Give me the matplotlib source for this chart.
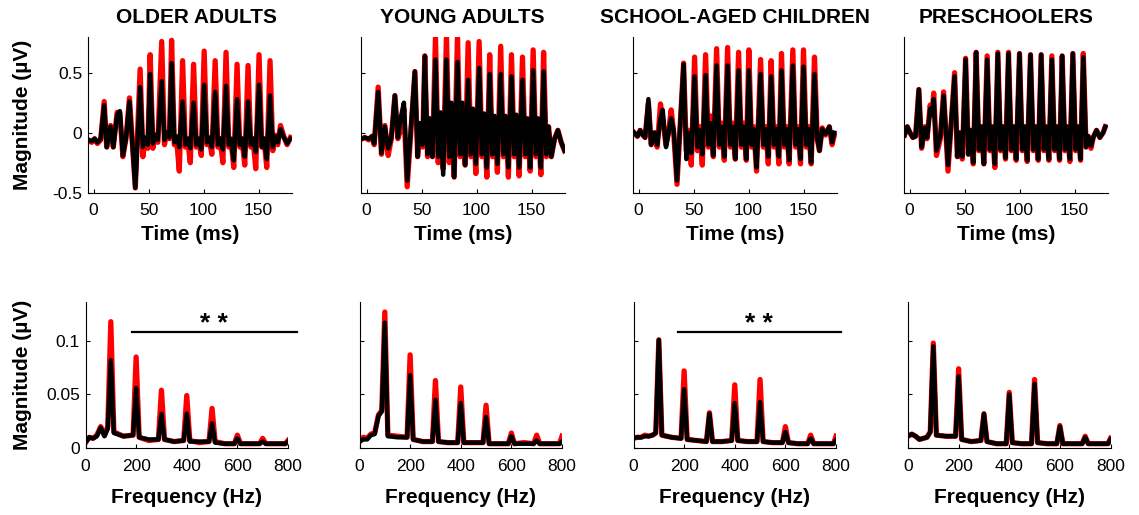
import numpy as np
import matplotlib.pyplot as plt

plt.rcParams['font.family'] = ['Liberation Sans', 'DejaVu Sans']

titles = ['OLDER ADULTS', 'YOUNG ADULTS', 'SCHOOL-AGED CHILDREN', 'PRESCHOOLERS']

# ---------------- time domain (uV) ----------------
# onset wiggles before the periodic part, then one entry per 100 Hz cycle:
# (peak, dip after peak, small bump, trough before next peak), then offset wiggles

# older adults
old_onset_t = [-4, -1.5, 1, 3.5, 6.5, 9.7, 12, 15.5, 18, 21.5, 24, 26.7, 29.5, 32.7, 38]
old_onset_red = [-0.07, -0.08, -0.05, -0.09, -0.06, 0.26, -0.12, 0.06, -0.12, 0.17, 0.16, -0.20, -0.05, 0.29, -0.46]
old_onset_blk = [-0.06, -0.07, -0.05, -0.08, -0.05, 0.23, -0.12, 0.05, -0.12, 0.15, 0.18, -0.19, -0.05, 0.26, -0.46]
old_peak_t = [42.4, 51.5, 62, 71, 81, 91, 100.6, 110.6, 120.5, 130.5, 140.5, 150.5, 160.5]
old_cyc_red = [(0.53, -0.20, -0.05, -0.13), (0.65, -0.13, -0.02, -0.08), (0.76, -0.10, 0.00, -0.05),
               (0.77, -0.10, -0.05, -0.32), (0.60, -0.12, -0.05, -0.25), (0.57, -0.12, -0.05, -0.19),
               (0.68, -0.10, -0.05, -0.18), (0.60, -0.12, -0.05, -0.25), (0.67, -0.12, -0.06, -0.29),
               (0.57, -0.12, -0.05, -0.27), (0.56, -0.12, -0.05, -0.30), (0.65, -0.12, -0.05, -0.29),
               (0.60, -0.15, -0.02, -0.10)]
old_cyc_blk = [(0.38, -0.12, -0.04, -0.10), (0.49, -0.09, -0.02, -0.06), (0.43, -0.06, 0.00, -0.04),
               (0.58, -0.08, -0.03, -0.12), (0.26, -0.10, -0.05, -0.13), (0.25, -0.10, -0.05, -0.14),
               (0.40, -0.08, -0.04, -0.12), (0.34, -0.10, -0.05, -0.14), (0.39, -0.10, -0.05, -0.23),
               (0.28, -0.10, -0.05, -0.20), (0.26, -0.10, -0.05, -0.16), (0.40, -0.12, -0.05, -0.22),
               (0.31, -0.12, -0.03, -0.08)]
old_tail_t = [170, 173, 176, 179]
old_tail_red = [0.06, -0.03, -0.10, -0.04]
old_tail_blk = [0.03, -0.04, -0.09, -0.05]

# young adults
yng_onset_t = [-4, -1.5, 2, 5, 7, 10.6, 13.6, 16.7, 19.7, 22.5, 25.8, 28.5, 31, 34, 37]
yng_onset_red = [-0.05, -0.04, -0.06, -0.03, -0.10, 0.38, -0.18, 0.06, -0.19, -0.05, 0.31, -0.05, 0.02, 0.20, -0.45]
yng_onset_blk = [-0.05, -0.04, -0.05, -0.03, -0.09, 0.34, -0.17, 0.05, -0.13, -0.05, 0.31, -0.04, 0.12, 0.25, -0.40]
yng_peak_t = [44, 53, 62.7, 72.7, 82.7, 92.4, 102.4, 112, 122, 131.8, 141.8, 151.5, 161]
yng_cyc_red = [(0.51, -0.20, 0.05, -0.12), (0.64, -0.20, 0.10, -0.20), (0.80, -0.25, 0.15, -0.30),
               (0.81, -0.25, 0.20, -0.37), (0.81, -0.20, 0.20, -0.27), (0.75, -0.20, 0.15, -0.34),
               (0.76, -0.20, 0.12, -0.37), (0.65, -0.20, 0.12, -0.33), (0.72, -0.20, 0.12, -0.37),
               (0.65, -0.20, 0.12, -0.36), (0.63, -0.20, 0.10, -0.32), (0.69, -0.20, 0.10, -0.35),
               (0.67, -0.20, 0.05, -0.20)]
yng_cyc_blk = [(0.51, -0.20, 0.08, -0.10), (0.64, -0.18, 0.12, -0.20), (0.61, -0.20, 0.17, -0.35),
               (0.61, -0.20, 0.25, -0.37), (0.59, -0.18, 0.25, -0.27), (0.44, -0.18, 0.20, -0.26),
               (0.54, -0.18, 0.16, -0.29), (0.49, -0.18, 0.14, -0.26), (0.49, -0.18, 0.14, -0.29),
               (0.47, -0.18, 0.15, -0.29), (0.44, -0.18, 0.12, -0.29), (0.52, -0.18, 0.12, -0.29),
               (0.51, -0.18, 0.05, -0.20)]
yng_tail_t = [171, 174, 177, 180]
yng_tail_red = [-0.05, 0.02, -0.08, -0.15]
yng_tail_blk = [-0.05, 0.02, -0.08, -0.15]

# school-aged children
sch_onset_t = [-4, -1, 1.5, 4, 6, 9, 11.5, 14.5, 17, 20, 22, 25, 27.5, 29.7, 32, 35]
sch_onset_red = [0.00, -0.03, 0.02, -0.02, -0.04, 0.25, -0.10, 0.00, -0.12, 0.24, 0.10, -0.10, 0.02, 0.19, 0.00, -0.43]
sch_onset_blk = [0.00, -0.03, 0.02, -0.02, -0.04, 0.28, -0.10, 0.00, -0.10, 0.12, 0.19, -0.12, 0.00, 0.12, 0.02, -0.40]
sch_peak_t = [41, 51, 61, 71, 81, 91, 100.3, 111, 120.6, 130, 140.3, 150, 160]
sch_cyc_red = [(0.58, -0.15, 0.02, -0.27), (0.63, -0.15, 0.05, -0.27), (0.65, -0.12, 0.14, -0.20),
               (0.70, -0.12, 0.08, -0.23), (0.71, -0.12, 0.08, -0.22), (0.67, -0.12, 0.08, -0.23),
               (0.69, -0.12, 0.05, -0.32), (0.61, -0.12, 0.05, -0.26), (0.60, -0.12, 0.05, -0.26),
               (0.66, -0.12, 0.05, -0.26), (0.69, -0.12, 0.05, -0.26), (0.69, -0.12, 0.05, -0.26),
               (0.63, -0.05, -0.15, 0.04)]
sch_cyc_blk = [(0.57, -0.22, 0.00, -0.17), (0.47, -0.12, 0.02, -0.18), (0.48, -0.10, 0.08, -0.19),
               (0.56, -0.10, 0.05, -0.20), (0.56, -0.10, 0.05, -0.22), (0.52, -0.10, 0.05, -0.22),
               (0.52, -0.10, 0.03, -0.29), (0.49, -0.10, 0.03, -0.20), (0.47, -0.10, 0.03, -0.20),
               (0.52, -0.10, 0.03, -0.23), (0.56, -0.10, 0.03, -0.22), (0.55, -0.10, 0.03, -0.25),
               (0.49, -0.05, -0.15, 0.03)]
sch_tail_t = [170, 173.5, 176, 178]
sch_tail_red = [-0.02, 0.05, -0.10, -0.02]
sch_tail_blk = [-0.01, 0.05, -0.08, 0.00]

# preschoolers
pre_onset_t = [-4.5, -2, 0.5, 3, 5.5, 8.5, 11, 14, 16, 18.8, 20.5, 22, 24.5, 28, 31, 35]
pre_onset_red = [-0.02, 0.05, 0.00, -0.04, -0.03, 0.36, -0.13, 0.05, -0.05, 0.23, 0.15, 0.33, -0.19, -0.05, 0.34, -0.32]
pre_onset_blk = [-0.02, 0.05, 0.00, -0.04, -0.03, 0.36, -0.12, 0.04, -0.04, 0.20, 0.15, 0.28, -0.15, -0.03, 0.31, -0.27]
pre_peak_t = [41, 51, 60.6, 70.6, 80.3, 90, 100, 110, 119.7, 129.4, 138.8, 148.5, 158]
pre_cyc_red = [(0.50, -0.20, 0.00, -0.22), (0.62, -0.18, 0.02, -0.26), (0.67, -0.15, 0.05, -0.26),
               (0.64, -0.15, 0.05, -0.29), (0.67, -0.15, 0.05, -0.22), (0.67, -0.15, 0.05, -0.23),
               (0.66, -0.15, 0.05, -0.24), (0.65, -0.15, 0.05, -0.23), (0.65, -0.15, 0.05, -0.23),
               (0.64, -0.15, 0.05, -0.23), (0.64, -0.15, 0.05, -0.24), (0.66, -0.15, 0.05, -0.23),
               (0.66, -0.12, -0.03, -0.13)]
pre_cyc_blk = [(0.47, -0.20, 0.00, -0.20), (0.61, -0.18, 0.02, -0.25), (0.67, -0.14, 0.05, -0.26),
               (0.61, -0.14, 0.05, -0.26), (0.66, -0.14, 0.05, -0.21), (0.66, -0.14, 0.05, -0.22),
               (0.66, -0.14, 0.05, -0.23), (0.65, -0.14, 0.05, -0.22), (0.65, -0.14, 0.05, -0.22),
               (0.61, -0.14, 0.05, -0.22), (0.64, -0.14, 0.05, -0.22), (0.66, -0.14, 0.05, -0.22),
               (0.63, -0.12, -0.03, -0.11)]
pre_tail_t = [167, 170, 173, 176, 178]
pre_tail_red = [-0.04, 0.02, -0.04, 0.00, 0.05]
pre_tail_blk = [-0.04, 0.02, -0.04, 0.00, 0.05]

# ---------------- spectra (uV) ----------------
freq = [0, 15, 30, 45, 60, 75, 88, 100, 112, 150, 188, 200, 212, 250, 288, 300, 312, 350,
        388, 400, 412, 450, 488, 500, 512, 550, 588, 600, 612, 650, 688, 700, 712, 750, 790, 800]
old_spec_red = [0.005, 0.010, 0.009, 0.012, 0.020, 0.012, 0.020, 0.118, 0.015, 0.011, 0.012, 0.085,
                0.010, 0.007, 0.008, 0.054, 0.008, 0.006, 0.007, 0.049, 0.007, 0.005, 0.006, 0.037,
                0.006, 0.004, 0.004, 0.012, 0.004, 0.004, 0.004, 0.009, 0.004, 0.004, 0.004, 0.007]
old_spec_blk = [0.005, 0.010, 0.009, 0.011, 0.019, 0.011, 0.018, 0.082, 0.014, 0.011, 0.012, 0.056,
                0.010, 0.008, 0.008, 0.032, 0.008, 0.006, 0.007, 0.032, 0.006, 0.006, 0.006, 0.023,
                0.005, 0.004, 0.004, 0.009, 0.004, 0.004, 0.004, 0.006, 0.004, 0.004, 0.004, 0.006]
yng_spec_red = [0.006, 0.010, 0.009, 0.013, 0.014, 0.031, 0.035, 0.127, 0.012, 0.011, 0.010, 0.087,
                0.008, 0.006, 0.006, 0.063, 0.006, 0.005, 0.005, 0.057, 0.005, 0.005, 0.005, 0.040,
                0.004, 0.004, 0.004, 0.014, 0.004, 0.005, 0.004, 0.012, 0.004, 0.004, 0.004, 0.011]
yng_spec_blk = [0.006, 0.008, 0.008, 0.012, 0.013, 0.030, 0.034, 0.117, 0.011, 0.010, 0.010, 0.068,
                0.008, 0.006, 0.006, 0.045, 0.006, 0.005, 0.005, 0.042, 0.005, 0.005, 0.005, 0.029,
                0.004, 0.004, 0.004, 0.011, 0.004, 0.004, 0.004, 0.007, 0.004, 0.004, 0.004, 0.006]
sch_spec_red = [0.009, 0.010, 0.010, 0.012, 0.011, 0.012, 0.014, 0.101, 0.012, 0.010, 0.009, 0.072,
                0.008, 0.007, 0.006, 0.033, 0.006, 0.006, 0.007, 0.059, 0.007, 0.006, 0.006, 0.064,
                0.006, 0.005, 0.005, 0.020, 0.005, 0.004, 0.004, 0.012, 0.004, 0.004, 0.004, 0.011]
sch_spec_blk = [0.009, 0.010, 0.010, 0.011, 0.011, 0.012, 0.014, 0.101, 0.012, 0.010, 0.009, 0.055,
                0.008, 0.007, 0.006, 0.032, 0.006, 0.006, 0.007, 0.042, 0.007, 0.006, 0.006, 0.043,
                0.006, 0.005, 0.005, 0.015, 0.005, 0.004, 0.004, 0.009, 0.004, 0.004, 0.004, 0.0075]
pre_spec_red = [0.011, 0.013, 0.011, 0.008, 0.009, 0.010, 0.015, 0.098, 0.012, 0.011, 0.011, 0.074,
                0.008, 0.006, 0.007, 0.032, 0.006, 0.004, 0.004, 0.052, 0.005, 0.004, 0.004, 0.064,
                0.005, 0.004, 0.004, 0.021, 0.004, 0.004, 0.004, 0.011, 0.004, 0.004, 0.004, 0.009]
pre_spec_blk = [0.011, 0.013, 0.011, 0.008, 0.009, 0.010, 0.015, 0.095, 0.012, 0.011, 0.011, 0.067,
                0.008, 0.006, 0.007, 0.032, 0.006, 0.004, 0.004, 0.050, 0.005, 0.004, 0.004, 0.060,
                0.005, 0.004, 0.004, 0.020, 0.004, 0.004, 0.004, 0.010, 0.004, 0.004, 0.004, 0.008]

# significance bars (Hz range, height)
old_sig = [185, 835]
sch_sig = [176, 820]
sig_y = 0.1087


def build_wave(onset_t, onset_v, peak_t, cycles, tail_t, tail_v):
    t = list(onset_t)
    v = list(onset_v)
    for p, c in zip(peak_t, cycles):
        t += [p, p + 2.5, p + 4.5, p + 7]
        v += list(c)
    return t + list(tail_t), v + list(tail_v)


waves = [
    (old_onset_t, old_onset_red, old_onset_blk, old_peak_t, old_cyc_red, old_cyc_blk, old_tail_t, old_tail_red, old_tail_blk),
    (yng_onset_t, yng_onset_red, yng_onset_blk, yng_peak_t, yng_cyc_red, yng_cyc_blk, yng_tail_t, yng_tail_red, yng_tail_blk),
    (sch_onset_t, sch_onset_red, sch_onset_blk, sch_peak_t, sch_cyc_red, sch_cyc_blk, sch_tail_t, sch_tail_red, sch_tail_blk),
    (pre_onset_t, pre_onset_red, pre_onset_blk, pre_peak_t, pre_cyc_red, pre_cyc_blk, pre_tail_t, pre_tail_red, pre_tail_blk),
]
spectra = [(old_spec_red, old_spec_blk), (yng_spec_red, yng_spec_blk),
           (sch_spec_red, sch_spec_blk), (pre_spec_red, pre_spec_blk)]
sigs = [old_sig, None, sch_sig, None]

W, H = 1139, 515
fig = plt.figure(figsize=(W / 100, H / 100), dpi=100)

top_left = [88, 361, 633, 904]
bot_left = [85.5, 359.5, 633.5, 908]
title_x = [0.535, 0.5, 0.5, 0.5]

tick_fs = 12.5
lab_fs = 15
red_lw = 3.8
blk_lw = 3.2


def style(ax):
    for s in ['top', 'right']:
        ax.spines[s].set_visible(False)
    for s in ['left', 'bottom']:
        ax.spines[s].set_linewidth(0.8)
    ax.tick_params(direction='in', length=3, width=0.8, labelsize=tick_fs)
    ax.tick_params(axis='y', pad=4)


for i in range(4):
    ot, ored, oblk, pt, cred, cblk, tt, tred, tblk = waves[i]
    t, vr = build_wave(ot, ored, pt, cred, tt, tred)
    _, vb = build_wave(ot, oblk, pt, cblk, tt, tblk)

    ax = fig.add_axes([top_left[i] / W, (H - 192.7) / H, 203.5 / W, 156 / H])
    ax.plot(t, vr, color='#ff0000', lw=red_lw, solid_joinstyle='round')
    ax.plot(t, vb, color='black', lw=blk_lw, solid_joinstyle='round')
    ax.set_xlim(-5, 180)
    ax.set_ylim(-0.5, 0.8)
    ax.set_xticks([0, 50, 100, 150])
    ax.set_yticks([-0.5, 0, 0.5])
    style(ax)
    ax.tick_params(axis='x', pad=7.5)
    if i == 0:
        ax.set_yticklabels(['-0.5', '0', '0.5'])
        ax.set_ylabel('Magnitude (µV)', fontsize=lab_fs, fontweight='bold', labelpad=15)
    else:
        ax.set_yticklabels([])
    ax.set_xlabel('Time (ms)', fontsize=lab_fs, fontweight='bold', labelpad=5)
    ax.set_title(titles[i], fontsize=lab_fs, fontweight='bold', pad=10, x=title_x[i])

    sr, sb = spectra[i]
    bx = fig.add_axes([bot_left[i] / W, (H - 448) / H, 202.5 / W, 146 / H])
    bx.plot(freq, sr, color='#ff0000', lw=red_lw, solid_joinstyle='round')
    bx.plot(freq, sb, color='black', lw=blk_lw, solid_joinstyle='round')
    bx.set_xlim(0, 800)
    bx.set_ylim(0, 0.1364)
    bx.set_xticks([0, 200, 400, 600, 800])
    bx.set_yticks([0, 0.05, 0.1])
    style(bx)
    bx.tick_params(axis='x', pad=8)
    if i == 0:
        bx.set_yticklabels(['0', '0.05', '0.1'])
        bx.set_ylabel('Magnitude (µV)', fontsize=lab_fs, fontweight='bold', labelpad=10)
    else:
        bx.set_yticklabels([])
    bx.set_xlabel('Frequency (Hz)', fontsize=lab_fs, fontweight='bold', labelpad=10)
    if sigs[i] is not None:
        bx.plot(sigs[i], [sig_y, sig_y], color='black', lw=1.6, clip_on=False)
        bx.text(np.mean(sigs[i]) - 4, sig_y + 0.001, '* *', ha='center', va='baseline',
                fontsize=19, fontweight='bold', clip_on=False)

fig.savefig('out.png', dpi=100)
